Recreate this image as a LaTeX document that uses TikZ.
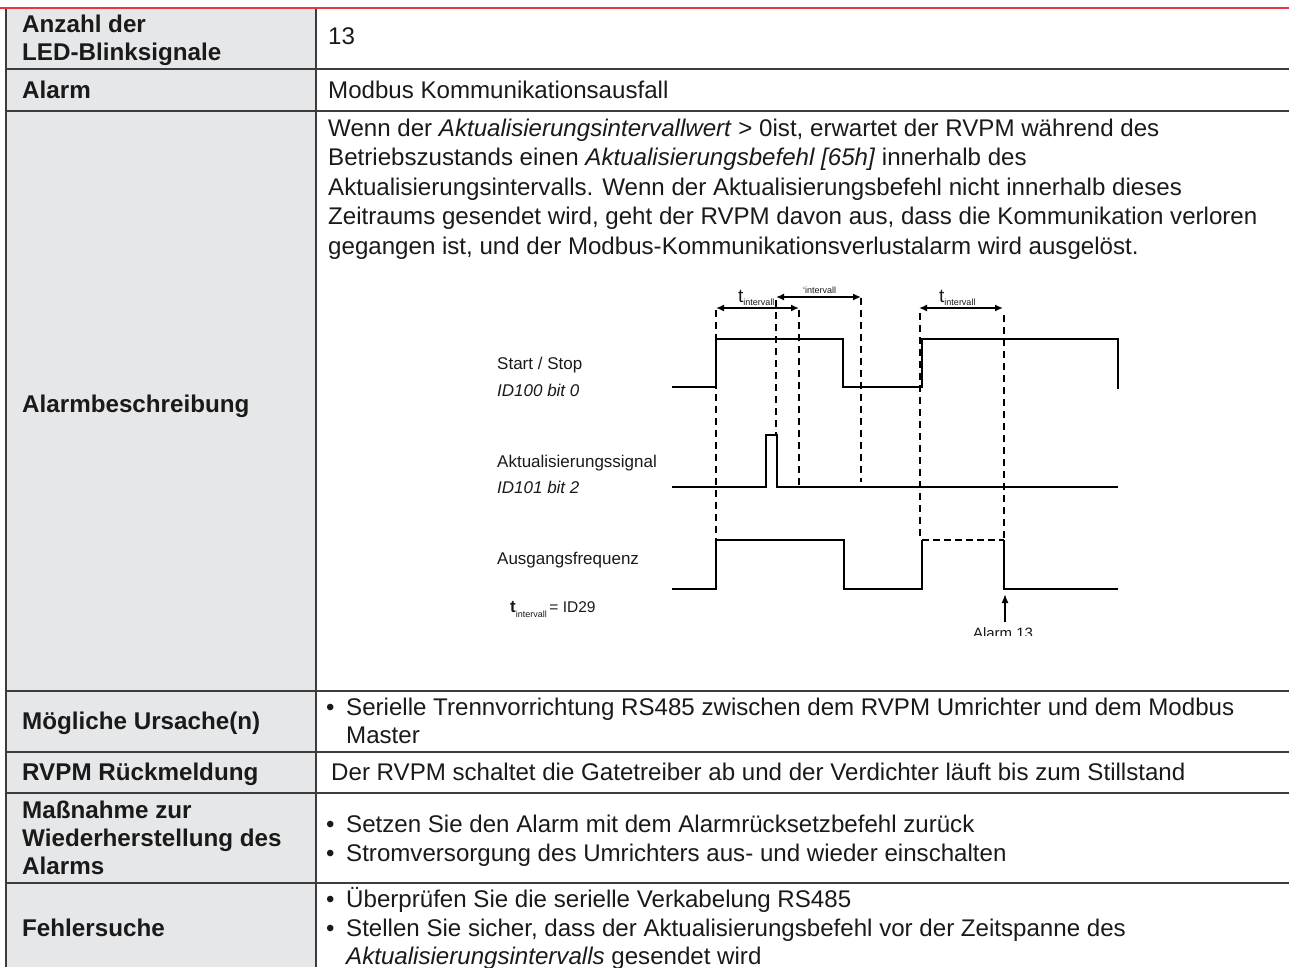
\documentclass[tikz,border=0pt]{standalone}
\usepackage{fontspec}
\setmainfont{Liberation Sans}
\usetikzlibrary{arrows.meta}
\definecolor{gridc}{HTML}{3C3C3C}
\definecolor{cellgrey}{HTML}{E6E7E8}
\definecolor{topred}{HTML}{E5383F}
\definecolor{inkc}{HTML}{1A1A1A}
\begin{document}
\begin{tikzpicture}[x=1pt,y=-1pt,
  gridline/.style={draw=gridc, line width=1.3pt},
  lbl/.style={anchor=base west, inner sep=0pt, text=inkc, font=\fontsize{24.2}{28}\selectfont\bfseries},
  txt/.style={anchor=base west, inner sep=0pt, text=inkc, font=\fontsize{24.1}{28}\selectfont},
  dlbl/.style={anchor=base west, inner sep=0pt, text=inkc, font=\fontsize{17}{20}\selectfont},
  sig/.style={line width=2pt, draw=black},
  vdash/.style={line width=1.8pt, draw=black, dash pattern=on 7pt off 5pt},
  dimarrow/.style={line width=1.8pt, {Latex[length=8pt,width=7pt]}-{Latex[length=8pt,width=7pt]}},
  sub/.style={anchor=base west, inner sep=0pt, text=inkc}
]
\useasboundingbox (0,0) rectangle (1289,967);
\fill[white] (0,0) rectangle (1289,967);
% grey first column
\fill[cellgrey] (6,9) rectangle (316,967);
% grid
\foreach \yy in {69,111,691,752,793,883} \draw[gridline] (6,\yy) -- (1289,\yy);
\draw[gridline] (6,9) -- (6,967);
\draw[gridline] (316,9) -- (316,967);
\draw[draw=topred, line width=1.6pt] (0,8) -- (1289,8);

% left column
\node[lbl] (l1a) at (22,32) {Anzahl der};
\node[lbl] (l1b) at (22,60) {LED-Blinksignale};
\node[lbl] (l2) at (22,98) {Alarm};
\node[lbl] (l3) at (22,412) {Alarmbeschreibung};
\node[lbl] (l4) at (22,729) {Mögliche Ursache(n)};
\node[lbl] (l5) at (22,780) {RVPM Rückmeldung};
\node[lbl] (l6a) at (22,818) {Maßnahme zur};
\node[lbl] (l6b) at (22,846) {Wiederherstellung des};
\node[lbl] (l6c) at (22,874) {Alarms};
\node[lbl] (l7) at (22,936) {Fehlersuche};

% right column
\node[txt] (r1) at (328,44) {13};
\node[txt] (r2) at (328,98) {Modbus Kommunikationsausfall};
\node[txt] (d1) at (328,136) {Wenn der \textit{Aktualisierungsintervallwert} > 0ist, erwartet der RVPM während des};
\node[txt] (d2) at (328,165.5) {Betriebszustands einen \textit{Aktualisierungsbefehl [65h]} innerhalb des};
\node[txt] (d3) at (328,195) {Aktualisierungsintervalls. Wenn der Aktualisierungsbefehl nicht innerhalb dieses};
\node[txt] (d4) at (328,224.5) {Zeitraums gesendet wird, geht der RVPM davon aus, dass die Kommunikation verloren};
\node[txt] (d5) at (328,254) {gegangen ist, und der Modbus-Kommunikationsverlustalarm wird ausgelöst.};

\node[txt] (b4) at (326,715) {•};
\node[txt] (r4a) at (346,715) {Serielle Trennvorrichtung RS485 zwischen dem RVPM Umrichter und dem Modbus};
\node[txt] (r4b) at (346,743) {Master};
\node[txt] (r5) at (331,780) {Der RVPM schaltet die Gatetreiber ab und der Verdichter läuft bis zum Stillstand};
\node[txt] (b6a) at (326,832) {•};
\node[txt] (r6a) at (346,832) {Setzen Sie den Alarm mit dem Alarmrücksetzbefehl zurück};
\node[txt] (b6b) at (326,861) {•};
\node[txt] (r6b) at (346,861) {Stromversorgung des Umrichters aus- und wieder einschalten};
\node[txt] (b7a) at (326,907) {•};
\node[txt] (r7a) at (346,907) {Überprüfen Sie die serielle Verkabelung RS485};
\node[txt] (b7b) at (326,936) {•};
\node[txt] (r7b) at (346,936) {Stellen Sie sicher, dass der Aktualisierungsbefehl vor der Zeitspanne des};
\node[txt] (r7c) at (346,964) {\textit{Aktualisierungsintervalls} gesendet wird};

% timing diagram labels
\node[dlbl] (s1) at (497,369) {Start / Stop};
\node[dlbl] (s1b) at (497,396) {\itshape ID100 bit 0};
\node[dlbl] (s2) at (497,467) {Aktualisierungssignal};
\node[dlbl] (s2b) at (497,493) {\itshape ID101 bit 2};
\node[dlbl] (s3) at (497,564) {Ausgangsfrequenz};
\node[sub] (tdef) at (510,612) {{\fontsize{17}{17}\selectfont\bfseries t}{\fontsize{9}{9}\selectfont\raisebox{-5pt}{intervall}}{\fontsize{15.5}{15}\selectfont\,= ID29}};

% signals
\draw[sig] (672,387) -- (716,387) -- (716,339) -- (843,339) -- (843,387) -- (922,387) -- (922,339) -- (1118,339) -- (1118,389);
\draw[sig] (672,487) -- (766,487) -- (766,435) -- (777,435) -- (777,487) -- (1118,487);
\draw[sig] (672,589) -- (716,589) -- (716,540) -- (844,540) -- (844,589) -- (922,589) -- (922,540);
\draw[line width=1.6pt, dash pattern=on 7pt off 4pt] (922,540) -- (1004,540);
\draw[sig] (1004,540) -- (1004,589) -- (1118,589);

% dashed markers
\coordinate (m1t) at (716,310); \coordinate (m1b) at (716,540);
\coordinate (m2t) at (776,300); \coordinate (m2b) at (776,434);
\coordinate (m3t) at (799,310); \coordinate (m3b) at (799,487);
\coordinate (m4t) at (861,298); \coordinate (m4b) at (861,482);
\coordinate (m5t) at (920,313); \coordinate (m5b) at (920,540);
\coordinate (m6t) at (1004,315); \coordinate (m6b) at (1004,540);
\foreach \m in {1,...,6} \draw[vdash] (m\m t) -- (m\m b);

% interval arrows
\coordinate (a1l) at (716,308); \coordinate (a1r) at (799,308);
\coordinate (a2l) at (776,297); \coordinate (a2r) at (861,297);
\coordinate (a3l) at (919,308); \coordinate (a3r) at (1003,308);
\draw[dimarrow] (a1l) -- (a1r);
\draw[dimarrow] (a2l) -- (a2r);
\draw[dimarrow] (a3l) -- (a3r);
\node[sub] (t1) at (738,302) {{\fontsize{19}{19}\selectfont t}{\fontsize{9}{9}\selectfont\raisebox{-3pt}{intervall}}};
\node[sub] (t2) at (803,293) {\fontsize{9}{9}\selectfont `intervall};
\node[sub] (t3) at (939,302) {{\fontsize{19}{19}\selectfont t}{\fontsize{9}{9}\selectfont\raisebox{-3pt}{intervall}}};

% alarm arrow
\coordinate (al0) at (1005,622);
\coordinate (al1) at (1005,594);
\draw[line width=1.6pt, -{Latex[length=9pt,width=7pt]}] (al0) -- (al1);
\begin{scope}
\clip (940,600) rectangle (1070,635);
\node[anchor=base, inner sep=0pt, text=inkc, font=\fontsize{15}{15}\selectfont] (alarm) at (1003,638) {Alarm 13};
\end{scope}
\end{tikzpicture}
\end{document}
